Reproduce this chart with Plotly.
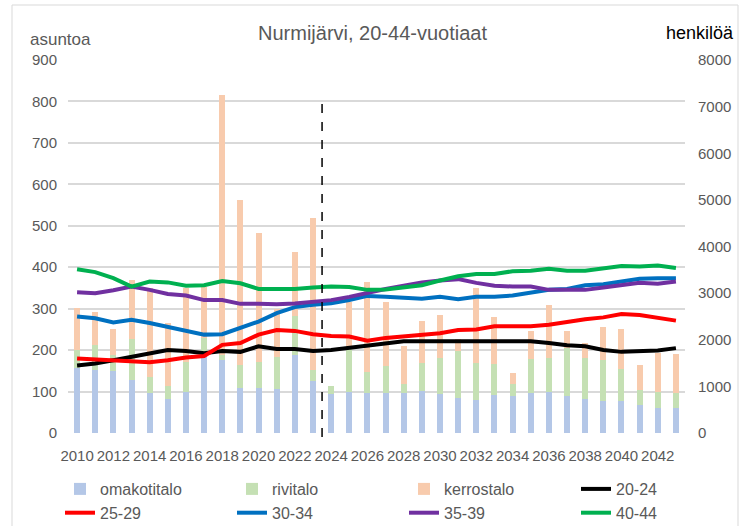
import plotly.graph_objects as go

years = list(range(2010, 2044))

# asuntoa (dwellings) - stacked bar components
omakotitalo = [156, 152, 150, 128, 96, 81, 100, 190, 175, 108, 108, 105, 189, 126,
               95, 100, 97, 96, 96, 101, 94, 85, 79, 92, 89, 96, 99, 89, 81, 77, 77, 68, 60, 60]
rivitalo = [44, 61, 38, 100, 40, 33, 72, 40, 13, 56, 64, 79, 94, 25,
            19, 109, 51, 66, 22, 67, 88, 113, 89, 74, 29, 83, 83, 116, 101, 99, 78, 36, 40, 36]
kerrostalo = [101, 80, 64, 142, 213, 151, 177, 122, 628, 398, 310, 116, 153, 367,
              0, 108, 216, 153, 91, 103, 103, 30, 183, 115, 27, 66, 127, 42, 35, 79, 96, 60, 92, 94]

# henkilöä (persons) by age group
age_20_24 = [1450, 1490, 1560, 1640, 1720, 1780, 1760, 1710, 1760, 1740, 1860, 1800, 1800, 1760,
             1780, 1830, 1890, 1930, 1970, 1970, 1970, 1970, 1970, 1970, 1970, 1970, 1930, 1880,
             1860, 1780, 1740, 1760, 1770, 1820]
age_25_29 = [1600, 1580, 1560, 1550, 1520, 1560, 1620, 1650, 1890, 1930, 2110, 2210, 2190, 2120,
             2080, 2070, 1980, 2040, 2070, 2090, 2140, 2210, 2220, 2290, 2290, 2290, 2320, 2390,
             2440, 2480, 2550, 2530, 2480, 2410]
age_30_34 = [2500, 2460, 2370, 2430, 2360, 2270, 2180, 2110, 2120, 2250, 2390, 2570, 2700, 2750,
             2780, 2850, 2940, 2920, 2890, 2880, 2920, 2870, 2920, 2920, 2950, 3000, 3070, 3090,
             3170, 3190, 3240, 3310, 3320, 3320]
age_35_39 = [3020, 3000, 3060, 3140, 3070, 2980, 2950, 2850, 2850, 2770, 2770, 2760, 2780, 2820,
             2850, 2920, 3010, 3090, 3160, 3230, 3270, 3300, 3220, 3160, 3140, 3140, 3070, 3080,
             3070, 3120, 3160, 3220, 3200, 3250]
age_40_44 = [3510, 3450, 3320, 3140, 3250, 3230, 3160, 3170, 3260, 3210, 3090, 3090, 3090, 3120,
             3140, 3130, 3070, 3080, 3130, 3170, 3270, 3360, 3410, 3410, 3470, 3480, 3520, 3480,
             3480, 3520, 3580, 3570, 3590, 3540]

left_ticks = list(range(0, 1000, 100))
right_ticks = list(range(0, 9000, 1000))
x_ticks = list(range(2010, 2044, 2))
forecast_start = 2023.5

FONT = "Liberation Sans, Arial, sans-serif"
GREY = "#595959"
W, H = 745, 526
L, R, T, B = 68, 60, 60, 93
PW, PH = W - L - R, H - T - B


def px_x(x):
    return (x - L) / PW


def px_y(y):
    return (H - B - y) / PH


fig = go.Figure()

bar_series = [("omakotitalo", omakotitalo, "#b4c7e7"),
              ("rivitalo", rivitalo, "#c5e0b4"),
              ("kerrostalo", kerrostalo, "#f8cbad")]
for name, vals, col in bar_series:
    fig.add_trace(go.Bar(x=years, y=vals, name=name, marker=dict(color=col, line=dict(width=0)),
                         yaxis="y"))

line_series = [("20-24", age_20_24, "#000000"),
               ("25-29", age_25_29, "#ff0000"),
               ("30-34", age_30_34, "#0070c0"),
               ("35-39", age_35_39, "#7030a0"),
               ("40-44", age_40_44, "#00b050")]
for name, vals, col in line_series:
    fig.add_trace(go.Scatter(x=years, y=vals, name=name, mode="lines",
                             line=dict(color=col, width=4), yaxis="y2"))

fig.update_layout(
    width=W, height=H,
    margin=dict(l=L, r=R, t=T, b=B, autoexpand=False),
    paper_bgcolor="white", plot_bgcolor="white",
    barmode="stack", bargap=0.67,
    font=dict(family=FONT, size=15, color=GREY),
    title=dict(text="Nurmijärvi, 20-44-vuotiaat", x=0.5, xref="container", xanchor="center",
               y=1 - 33 / H, yref="container", yanchor="middle",
               font=dict(family=FONT, size=20, color=GREY)),
    xaxis=dict(range=[2009.5, 2043.5], tickmode="array", tickvals=x_ticks,
               ticktext=[str(v) for v in x_ticks], showgrid=False, zeroline=False,
               showline=False, ticks="", tickangle=0, ticklabelstandoff=12,
               tickfont=dict(size=15, color=GREY)),
    yaxis=dict(range=[0, 900], tickmode="array", tickvals=left_ticks, showgrid=True,
               gridcolor="#d9d9d9", gridwidth=1.5, zeroline=False, showline=False, ticks="",
               ticklabelstandoff=10, tickfont=dict(size=15, color=GREY)),
    yaxis2=dict(range=[0, 8000], tickmode="array", tickvals=right_ticks, overlaying="y",
                side="right", showgrid=False, zeroline=False, showline=False, ticks="",
                ticklabelstandoff=12, tickfont=dict(size=15, color=GREY)),
    legend=dict(orientation="h", x=px_x(60), xanchor="left", y=px_y(472), yanchor="top",
                entrywidth=127, traceorder="normal", font=dict(size=16, color=GREY),
                bgcolor="rgba(0,0,0,0)", tracegroupgap=0),
    showlegend=True,
)

# forecast divider
fig.add_shape(type="line", xref="x", yref="paper", x0=forecast_start, x1=forecast_start,
              y0=px_y(437), y1=px_y(95), line=dict(color="black", width=1.5, dash="dash"))
# chart border
fig.add_shape(type="rect", xref="paper", yref="paper",
              x0=px_x(12), x1=px_x(738), y0=px_y(530), y1=px_y(5),
              line=dict(color="#d9d9d9", width=1), layer="below")

fig.add_annotation(text="asuntoa", xref="paper", yref="paper", x=px_x(28),
                   y=px_y(40), xanchor="left", yanchor="middle", showarrow=False,
                   font=dict(size=17, color=GREY))
fig.add_annotation(text="henkilöä", xref="paper", yref="paper", x=px_x(736),
                   y=px_y(33), xanchor="right", yanchor="middle", showarrow=False,
                   font=dict(size=18, color="#000000"))

fig.write_html("out.html", config={"displayModeBar": False},
               post_script="document.body.style.margin='0';")
